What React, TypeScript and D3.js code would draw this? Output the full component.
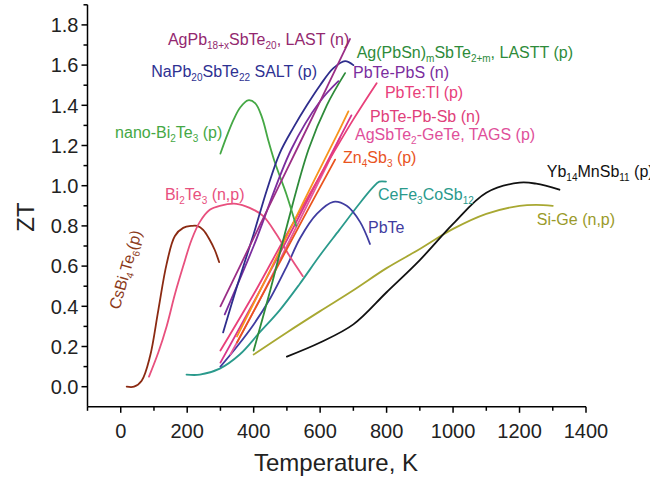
import React from 'react';
import * as d3 from 'd3';

// ---- axis ticks ----
const xMajorTicks = [0, 200, 400, 600, 800, 1000, 1200, 1400];
const xMinorTicks = [-100, 100, 300, 500, 700, 900, 1100, 1300];
const yMajorTicks = [0.0, 0.2, 0.4, 0.6, 0.8, 1.0, 1.2, 1.4, 1.6, 1.8];
const yMinorTicks = [0.1, 0.3, 0.5, 0.7, 0.9, 1.1, 1.3, 1.5, 1.7, 1.9];

// ---- series: [Temperature K, ZT] ----
const csBi4Te6 = [[18, 0.0], [40, 0.0], [63, 0.03], [88, 0.15], [113, 0.38], [138, 0.61], [163, 0.75], [188, 0.79], [213, 0.80], [230, 0.80], [248, 0.78], [268, 0.73], [283, 0.68], [296, 0.62]];
const bi2Te3 = [[85, 0.05], [113, 0.17], [138, 0.30], [163, 0.46], [188, 0.60], [213, 0.73], [238, 0.82], [268, 0.88], [298, 0.90], [348, 0.91], [388, 0.89], [428, 0.85], [468, 0.76], [508, 0.65], [548, 0.55]];
const nanoBi2Te3 = [[300, 1.16], [320, 1.25], [340, 1.33], [360, 1.39], [383, 1.425], [405, 1.41], [425, 1.34], [445, 1.22], [465, 1.11], [498, 0.96], [528, 0.80]];
const lastN = [[300, 0.40], [400, 0.74], [500, 1.08], [600, 1.42], [690, 1.73]];
const saltP = [[308, 0.27], [350, 0.50], [400, 0.76], [440, 0.98], [478, 1.16], [520, 1.29], [560, 1.40], [600, 1.50], [640, 1.585], [675, 1.62], [700, 1.60]];
const lasttP = [[400, 0.18], [450, 0.48], [500, 0.80], [565, 1.18], [620, 1.40], [675, 1.56]];
const pbTePbS = [[313, 0.36], [400, 0.70], [513, 1.18], [600, 1.42], [655, 1.52]];
const pbTeTl = [[300, 0.18], [400, 0.46], [500, 0.76], [600, 1.05], [700, 1.33], [770, 1.51]];
const pbTePbSb = [[300, 0.12], [400, 0.42], [500, 0.73], [600, 1.05], [694, 1.35]];
const tags = [[330, 0.16], [430, 0.47], [530, 0.80], [620, 1.10], [660, 1.24]];
const orangeSeries = [[350, 0.25], [450, 0.58], [550, 0.92], [650, 1.25], [685, 1.37]];
const zn4Sb3 = [[350, 0.22], [450, 0.53], [550, 0.84], [645, 1.13]];
const ceFe3CoSb12 = [[198, 0.06], [238, 0.06], [298, 0.09], [358, 0.16], [418, 0.27], [478, 0.38], [538, 0.51], [598, 0.65], [658, 0.78], [718, 0.91], [758, 0.99], [778, 1.02], [798, 1.02]];
const pbTe = [[300, 0.10], [350, 0.20], [400, 0.31], [450, 0.44], [500, 0.60], [540, 0.74], [590, 0.86], [640, 0.92], [680, 0.90], [720, 0.82], [750, 0.71]];
const yb14MnSb11 = [[500, 0.15], [600, 0.22], [700, 0.31], [800, 0.47], [900, 0.63], [1000, 0.81], [1100, 0.965], [1200, 1.015], [1250, 1.01], [1320, 0.98]];
const siGe = [[400, 0.16], [500, 0.27], [600, 0.376], [700, 0.48], [800, 0.59], [900, 0.685], [1000, 0.785], [1100, 0.86], [1200, 0.90], [1250, 0.905], [1300, 0.90]];

const seriesList = [
  { data: ceFe3CoSb12, color: '#2a9a8c' },
  { data: siGe, color: '#a8a832' },
  { data: yb14MnSb11, color: '#111111' },
  { data: pbTe, color: '#3f3ca0' },
  { data: csBi4Te6, color: '#8b2a12' },
  { data: bi2Te3, color: '#e8507e' },
  { data: tags, color: '#e8589a' },
  { data: pbTePbSb, color: '#d8358c' },
  { data: pbTeTl, color: '#e8407a' },
  { data: zn4Sb3, color: '#e9541e' },
  { data: orangeSeries, color: '#f7941d' },
  { data: lasttP, color: '#2e8b3a' },
  { data: nanoBi2Te3, color: '#45a845' },
  { data: pbTePbS, color: '#7b2d9e' },
  { data: saltP, color: '#2e2d8c' },
  { data: lastN, color: '#9b2e86' },
];

// ---- annotation texts: [text, isSubscript] ----
const labelTexts: [string, boolean][][] = [
  [['AgPb', false], ['18+x', true], ['SbTe', false], ['20', true], [', LAST (n)', false]],
  [['NaPb', false], ['20', true], ['SbTe', false], ['22', true], [' SALT (p)', false]],
  [['nano-Bi', false], ['2', true], ['Te', false], ['3', true], [' (p)', false]],
  [['Ag(PbSn)', false], ['m', true], ['SbTe', false], ['2+m', true], [', LASTT (p)', false]],
  [['PbTe-PbS (n)', false]],
  [['PbTe:Tl (p)', false]],
  [['PbTe-Pb-Sb (n)', false]],
  [['AgSbTe', false], ['2', true], ['-GeTe, TAGS (p)', false]],
  [['Zn', false], ['4', true], ['Sb', false], ['3', true], [' (p)', false]],
  [['CeFe', false], ['3', true], ['CoSb', false], ['12', true]],
  [['PbTe', false]],
  [['Yb', false], ['14', true], ['MnSb', false], ['11', true], [' (p)', false]],
  [['Si-Ge (n,p)', false]],
  [['Bi', false], ['2', true], ['Te', false], ['3', true], [' (n,p)', false]],
  [['CsBi', false], ['4', true], ['Te', false], ['6', true], ['(p)', false]],
];
const labelColors = ['#93286f', '#2e3192', '#45a845', '#2e8b3a', '#7b2d9e', '#e8407a', '#e0407a', '#e0509a', '#e9541e', '#2a9a8c', '#3f3ca0', '#111111', '#9a9a2a', '#e8507e', '#8b3a1a'];
// anchors in data units [T, ZT], rotation in degrees
const labelAnchors = [
  [142, 1.70, 0], [92, 1.542, 0], [-17, 1.236, 0], [710, 1.634, 0], [699, 1.534, 0],
  [795, 1.435, 0], [750, 1.318, 0], [705, 1.227, 0], [669, 1.111, 0], [774, 0.929, 0],
  [744, 0.765, 0], [1282, 1.045, 0], [1252, 0.804, 0], [133, 0.929, 0], [-4, 0.38, -74],
];

const W = 650, H = 478;
const FONT = "'Liberation Sans', Arial, sans-serif";

export default function App() {
  const x = d3.scaleLinear().domain([-100, 1400]).range([87.5, 586]);
  const y = d3.scaleLinear().domain([-0.1, 1.9]).range([406.8, 4.8]);
  const line = d3.line<number[]>().x(d => x(d[0])).y(d => y(d[1])).curve(d3.curveCatmullRom.alpha(0.5));
  const axisY = y(-0.1);
  const axisX = x(-100);

  const renderLabel = (segs: [string, boolean][], i: number) => {
    const [t, z, rot] = labelAnchors[i];
    const px = x(t), py = y(z);
    let shifted = false;
    const children = segs.map(([s, sub], k) => {
      let dy = 0;
      if (sub && !shifted) { dy = 4; shifted = true; }
      else if (!sub && shifted) { dy = -4; shifted = false; }
      return (
        <tspan key={k} dy={dy} fontSize={sub ? 10 : 16}>{s}</tspan>
      );
    });
    return (
      <text key={i} x={rot ? 0 : px} y={rot ? 0 : py} fill={labelColors[i]} fontSize={16} fontFamily={FONT}
        transform={rot ? `translate(${px},${py}) rotate(${rot})` : undefined}>
        {children}
      </text>
    );
  };

  return (
    <svg width={W} height={H} style={{ position: 'absolute', left: 0, top: 0, background: '#fff' }}>
      <rect x={0} y={0} width={W} height={H} fill="#fff" />
      {seriesList.map((s, i) => (
        <path key={i} d={line(s.data) || ''} fill="none" stroke={s.color} strokeWidth={1.8} strokeLinejoin="round" strokeLinecap="round" />
      ))}
      {/* axes */}
      <line x1={axisX} x2={x(1400)} y1={axisY} y2={axisY} stroke="#000" strokeWidth={1.5} />
      <line x1={axisX} x2={axisX} y1={axisY} y2={y(1.9)} stroke="#000" strokeWidth={1.5} />
      {xMajorTicks.map(v => (
        <g key={'xm' + v}>
          <line x1={x(v)} x2={x(v)} y1={axisY} y2={axisY + 6} stroke="#000" strokeWidth={1.5} />
          <text x={x(v)} y={438} textAnchor="middle" fontSize={20} fontFamily={FONT} fill="#222">{v}</text>
        </g>
      ))}
      {xMinorTicks.map(v => (
        <line key={'xn' + v} x1={x(v)} x2={x(v)} y1={axisY} y2={axisY + 4} stroke="#000" strokeWidth={1.5} />
      ))}
      {yMajorTicks.map(v => (
        <g key={'ym' + v}>
          <line x1={axisX - 6} x2={axisX} y1={y(v)} y2={y(v)} stroke="#000" strokeWidth={1.5} />
          <text x={axisX - 9} y={y(v)} dy="0.36em" textAnchor="end" fontSize={20} fontFamily={FONT} fill="#222">{v.toFixed(1)}</text>
        </g>
      ))}
      {yMinorTicks.map(v => (
        <line key={'yn' + v} x1={axisX - 4} x2={axisX} y1={y(v)} y2={y(v)} stroke="#000" strokeWidth={1.5} />
      ))}
      <text transform={`translate(34,${217}) rotate(-90)`} textAnchor="middle" fontSize={24} fontFamily={FONT} fill="#222">ZT</text>
      <text x={336} y={471} textAnchor="middle" fontSize={24} fontFamily={FONT} fill="#222">Temperature, K</text>
      {labelTexts.map((segs, i) => renderLabel(segs, i))}
    </svg>
  );
}
